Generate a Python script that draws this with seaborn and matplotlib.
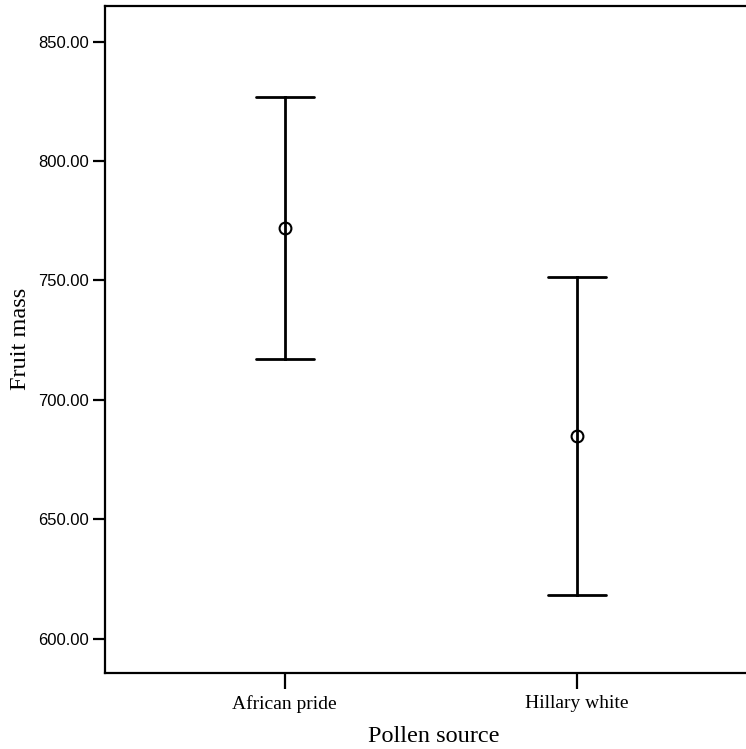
import matplotlib
matplotlib.use("Agg")
import matplotlib.pyplot as plt
import numpy as np
import pandas as pd
import seaborn as sns

# group means with lower / upper interval limits
groups = ["African pride", "Hillary white"]
means = [772.0, 684.7]
lower = [717.2, 618.2]
upper = [826.6, 751.3]
y_ticks = [600, 650, 700, 750, 800, 850]

# long table: median of (lower, mean, upper) = mean, 100% interval = lower..upper
rows = []
for g, lo, m, hi in zip(groups, lower, means, upper):
    for v in (lo, m, hi):
        rows.append({"Pollen source": g, "Fruit mass": v})
df = pd.DataFrame(rows)

sns.set_style("white")
plt.rcParams["font.family"] = ["Liberation Sans", "DejaVu Sans"]
plt.rcParams["text.color"] = "black"
plt.rcParams["axes.labelcolor"] = "black"
plt.rcParams["xtick.color"] = "black"
plt.rcParams["ytick.color"] = "black"

fig = plt.figure(figsize=(7.46, 7.49), dpi=100)
ax = fig.add_axes([105 / 746, 1 - 672.5 / 749, 1 - 105 / 746, (672.5 - 6) / 749])

sns.pointplot(data=df, x="Pollen source", y="Fruit mass", estimator="median",
              errorbar=("pi", 100), color="black", linestyles="none",
              markers="o", markersize=8.5, markerfacecolor="white",
              markeredgewidth=1.5, capsize=0.2, err_kws={"linewidth": 2.0},
              ax=ax)

ax.set_xlim(-0.615, 1.578)
ax.set_ylim(585.8, 864.9)
ax.set_yticks(y_ticks)
ax.set_yticklabels([f"{t:.2f}" for t in y_ticks], fontsize=12, color="black")
ax.set_xticklabels(groups, fontsize=14, family="Liberation Serif", color="black")
ax.set_xlabel("Pollen source", fontsize=17.5, family="Liberation Serif", color="black")
ax.xaxis.set_label_coords((434 - 105) / 641, -0.08)
ax.set_ylabel("Fruit mass", fontsize=17.5, family="Liberation Serif", labelpad=5,
              color="black")

for s in ax.spines.values():
    s.set_color("black")
    s.set_linewidth(1.6)
ax.spines["right"].set_visible(False)
ax.tick_params(axis="y", left=True, direction="out", length=8.4, width=1.6,
               color="black", pad=3)
ax.tick_params(axis="x", bottom=True, direction="out", length=11.5, width=1.6,
               color="black", pad=5)

fig.savefig("out.png", dpi=100)
